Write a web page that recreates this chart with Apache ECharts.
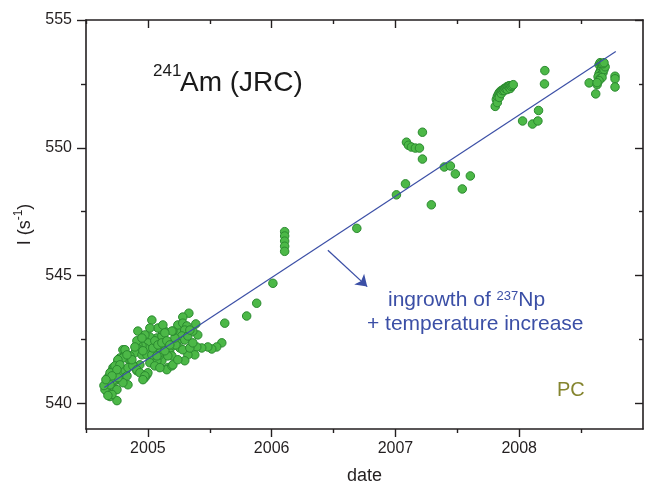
<!DOCTYPE html>
<html><head><meta charset="utf-8">
<script src="https://cdn.jsdelivr.net/npm/echarts@6/dist/echarts.min.js"></script>
<style>html,body{margin:0;padding:0;background:#fff}#c{width:645px;height:490px}</style>
</head><body><div id="c"></div><script>
// ---- data (date in decimal years, count rate I in s^-1) ----
const datesA = [2004.750,2004.694,2004.669,2004.839,2005.032,2004.919,2005.331,2005.282,2005.621,2005.798,2005.879,2005.597,2005.556,2005.516,2005.484,2005.435,2005.395,2005.403,2005.258,2005.234,2005.242,2005.282,2005.315,2005.298,2005.274,2005.298,2005.323,2005.234,2005.202,2005.258,2005.177,2005.153,2005.161,2005.153,2005.194,2005.113,2005.073,2005.097,2005.056,2005.121,2005.097,2005.073,2005.113,2005.137,2005.113,2005.081,2005.121,2005.016,2005.000,2004.976,2004.952,2004.919,2004.911,2004.895,2004.952,2004.992,2005.032,2004.935,2004.992,2004.976,2005.000,2004.911,2004.879,2004.855,2004.831,2004.798,2004.815,2004.774,2004.758,2004.750,2004.718,2004.710,2004.694,2004.677,2004.718,2004.750,2004.774,2004.790,2004.815,2004.734,2004.694,2004.774,2004.831,2004.798,2004.710,2004.750,2004.677,2004.710,2005.226,2005.363,2005.387,2005.379,2005.323,2005.298,2005.202,2005.194,2005.282,2005.218,2005.339,2005.202,2005.194,2005.137,2004.911,2004.895,2004.815,2004.798,2004.758,2004.734,2004.694,2004.669,2004.653,2004.677,2004.718,2004.758,2004.839,2004.879,2004.911,2004.935,2004.976,2004.960,2005.161,2005.097,2005.073,2005.137,2005.040,2004.960,2005.056,2005.081,2005.113,2005.153,2005.177,2004.855,2004.871,2004.831,2004.774,2004.750,2004.710,2004.694,2004.645,2004.661,2005.016,2005.056,2005.097,2005.242,2005.339,2005.363,2005.016,2004.976,2004.952];
const ratesA = [540.11,540.27,540.50,540.73,543.26,542.83,543.53,543.38,543.14,543.42,543.92,542.37,542.21,542.13,542.21,542.17,542.21,542.68,542.68,542.83,543.07,543.14,543.03,542.87,542.64,542.48,542.64,542.37,542.25,542.17,541.98,541.90,541.40,541.32,541.47,541.67,541.67,541.90,541.98,542.17,542.29,542.56,542.64,542.83,542.87,542.95,543.07,542.60,542.37,542.17,542.25,542.29,542.17,541.98,541.90,541.90,541.90,541.51,541.12,541.01,541.20,541.28,541.51,541.67,541.78,542.10,541.90,541.78,541.67,541.51,541.40,541.28,541.12,541.01,541.12,541.28,541.40,541.12,541.28,540.89,540.81,540.93,541.08,540.81,540.62,540.54,540.42,540.35,542.29,542.83,543.11,541.90,541.90,541.67,541.51,541.86,542.10,542.56,542.87,542.83,542.83,542.76,542.45,542.21,542.10,541.78,541.71,541.47,541.20,540.81,540.54,540.31,540.89,541.01,541.40,541.47,541.32,541.20,541.08,540.93,541.86,541.98,541.86,542.06,542.17,542.06,542.45,542.29,542.37,542.45,542.29,541.86,541.71,541.90,541.51,541.32,541.08,540.73,540.70,540.93,541.59,541.47,541.40,541.71,542.17,542.37,542.95,542.68,542.56];
const datesB = [2006.010,2006.105,2006.105,2006.105,2006.105,2006.105,2006.688];
const ratesB = [544.70,546.72,546.55,546.35,546.15,545.95,546.85];
const datesC = [2007.008,2007.081,2007.089,2007.105,2007.129,2007.161,2007.194,2007.218,2007.218,2007.290,2007.395,2007.444,2007.484,2007.540,2007.605];
const ratesC = [548.16,548.59,550.22,550.10,550.03,549.99,549.99,550.61,549.56,547.77,549.25,549.29,548.98,548.39,548.90];
const datesD = [2007.806,2007.815,2007.823,2007.823,2007.831,2007.839,2007.839,2007.847,2007.855,2007.855,2007.863,2007.871,2007.879,2007.879,2007.887,2007.895,2007.903,2007.903,2007.911,2007.919,2007.927,2007.927,2007.935,2007.944,2007.952,2008.027,2008.107,2008.151,2008.156,2008.204,2008.207];
const ratesD = [551.62,551.89,551.77,552.01,552.09,552.16,551.97,552.20,552.24,552.12,552.24,552.28,552.32,552.24,552.32,552.36,552.40,552.28,552.40,552.43,552.43,552.32,552.40,552.43,552.47,551.05,550.93,551.05,551.46,552.50,553.02];
const datesE = [2008.565,2008.618,2008.629,2008.774,2008.774,2008.774,2008.645,2008.653,2008.661,2008.669,2008.677,2008.669,2008.661,2008.653,2008.645,2008.661,2008.677,2008.685,2008.694,2008.637,2008.653,2008.669,2008.645,2008.629,2008.677,2008.685];
const ratesE = [552.54,552.11,552.47,552.80,552.70,552.38,553.25,553.33,553.29,553.25,553.21,553.13,553.06,552.98,552.90,552.86,552.94,553.06,553.17,552.78,552.71,552.75,552.63,552.55,553.29,553.33];
const trendDates = [2004.648, 2008.78];
const trendRates = [540.62, 553.77];
const arrowDates = [2006.454, 2006.772];
const arrowRates = [545.99, 544.57];
const xMajorTicks = [2005, 2006, 2007, 2008];
const xMinorTicks = [2004.5, 2005.5, 2006.5, 2007.5, 2008.5];
const yMajorTicks = [540, 545, 550, 555];
const yMinorTicks = [542.5, 547.5, 552.5];
const X_MIN = 2004.5, X_MAX = 2009, Y_MIN = 539, Y_MAX = 555;

// ---- build ----
const pts = [];
[[datesA, ratesA],[datesB, ratesB],[datesC, ratesC],[datesD, ratesD],[datesE, ratesE]].forEach(([d, r]) => {
  d.forEach((v, i) => pts.push([v, r[i]]));
});
const FONT = 'Liberation Sans, Arial, sans-serif';
const AX = '#231f20';
const BLUE = '#3b4fa6';

function xAx(pos, ticks, len, inside, withLabels, showLine) {
  return {
    type: 'value', position: pos, min: X_MIN, max: X_MAX,
    axisLine: { show: showLine, onZero: false, lineStyle: { color: AX, width: 1.6 } },
    axisTick: { show: true, inside: inside, length: len, customValues: ticks, lineStyle: { color: AX, width: 1.4 } },
    axisLabel: { show: withLabels, customValues: ticks, margin: 12, fontSize: 16, color: AX, fontFamily: FONT, formatter: v => String(v) },
    splitLine: { show: false },
    name: withLabels ? 'date' : '', nameLocation: 'middle', nameGap: 38,
    nameTextStyle: { fontSize: 18, color: AX, fontFamily: FONT }
  };
}
function yAx(pos, ticks, len, inside, withLabels, showLine) {
  return {
    type: 'value', position: pos, min: Y_MIN, max: Y_MAX,
    axisLine: { show: showLine, onZero: false, lineStyle: { color: AX, width: 1.6 } },
    axisTick: { show: true, inside: inside, length: len, customValues: ticks, lineStyle: { color: AX, width: 1.4 } },
    axisLabel: { show: withLabels, customValues: ticks, margin: 14, fontSize: 16, color: AX, fontFamily: FONT, formatter: v => String(v) },
    splitLine: { show: false },
    name: withLabels ? '{a|I (s}{b|-1}{a|)}' : '', nameLocation: 'middle', nameGap: 43, nameRotate: 90,
    nameTextStyle: { fontFamily: FONT, color: AX, rich: {
      a: { fontSize: 18, fontFamily: FONT, color: AX, lineHeight: 22, verticalAlign: 'bottom' },
      b: { fontSize: 12, fontFamily: FONT, color: AX, lineHeight: 13, verticalAlign: 'top' } } }
  };
}

const chart = echarts.init(document.getElementById('c'), null, { renderer: 'canvas' });
chart.setOption({
  animation: false,
  backgroundColor: '#ffffff',
  grid: { left: 86, right: 2, top: 20, bottom: 58, containLabel: false },
  xAxis: [
    xAx('bottom', xMajorTicks, 8, false, true, true),
    xAx('bottom', xMinorTicks, 4, false, false, false),
    xAx('top', xMajorTicks, 8, true, false, true),
    xAx('top', xMinorTicks, 4, true, false, false)
  ],
  yAxis: [
    yAx('left', yMajorTicks, 9, false, true, true),
    yAx('left', yMinorTicks, 5, false, false, false),
    yAx('right', yMajorTicks, 8, true, false, true),
    yAx('right', yMinorTicks, 4, true, false, false)
  ],
  series: [
    {
      type: 'scatter', xAxisIndex: 0, yAxisIndex: 0, data: pts,
      symbol: 'circle', symbolSize: 8.5, z: 2,
      itemStyle: { color: '#4cb847', borderColor: '#2b8a30', borderWidth: 1, opacity: 1 }
    },
    {
      type: 'line', xAxisIndex: 0, yAxisIndex: 0, z: 3,
      data: trendDates.map((d, i) => [d, trendRates[i]]),
      showSymbol: false, symbol: 'none',
      lineStyle: { color: BLUE, width: 1.2 },
      markLine: {
        silent: true, symbol: ['none', 'arrow'], symbolSize: 11,
        lineStyle: { color: BLUE, width: 1.3, type: 'solid' },
        itemStyle: { color: BLUE },
        label: { show: false },
        data: [[{ coord: [arrowDates[0], arrowRates[0]] }, { coord: [arrowDates[1], arrowRates[1]] }]]
      }
    }
  ],
  graphic: [
    { type: 'text', left: 153, top: 63, style: { text: '241', font: '17px ' + FONT, fill: '#1a1a1a' } },
    { type: 'text', left: 180, top: 69, style: { text: 'Am (JRC)', font: '28px ' + FONT, fill: '#1a1a1a' } },
    { type: 'text', left: 388, top: 290, style: {
        text: '{n|ingrowth of }{s|237}{n|Np}',
        rich: {
          n: { fontSize: 21, fontFamily: FONT, fill: BLUE, lineHeight: 21, verticalAlign: 'bottom' },
          s: { fontSize: 13, fontFamily: FONT, fill: BLUE, lineHeight: 13, verticalAlign: 'top' }
        } } },
    { type: 'text', left: 367, top: 314, style: { text: '+ temperature increase', font: '21px ' + FONT, fill: BLUE } },
    { type: 'text', left: 557, top: 380, style: { text: 'PC', font: '20px ' + FONT, fill: '#85852f' } }
  ]
});
</script></body></html>
